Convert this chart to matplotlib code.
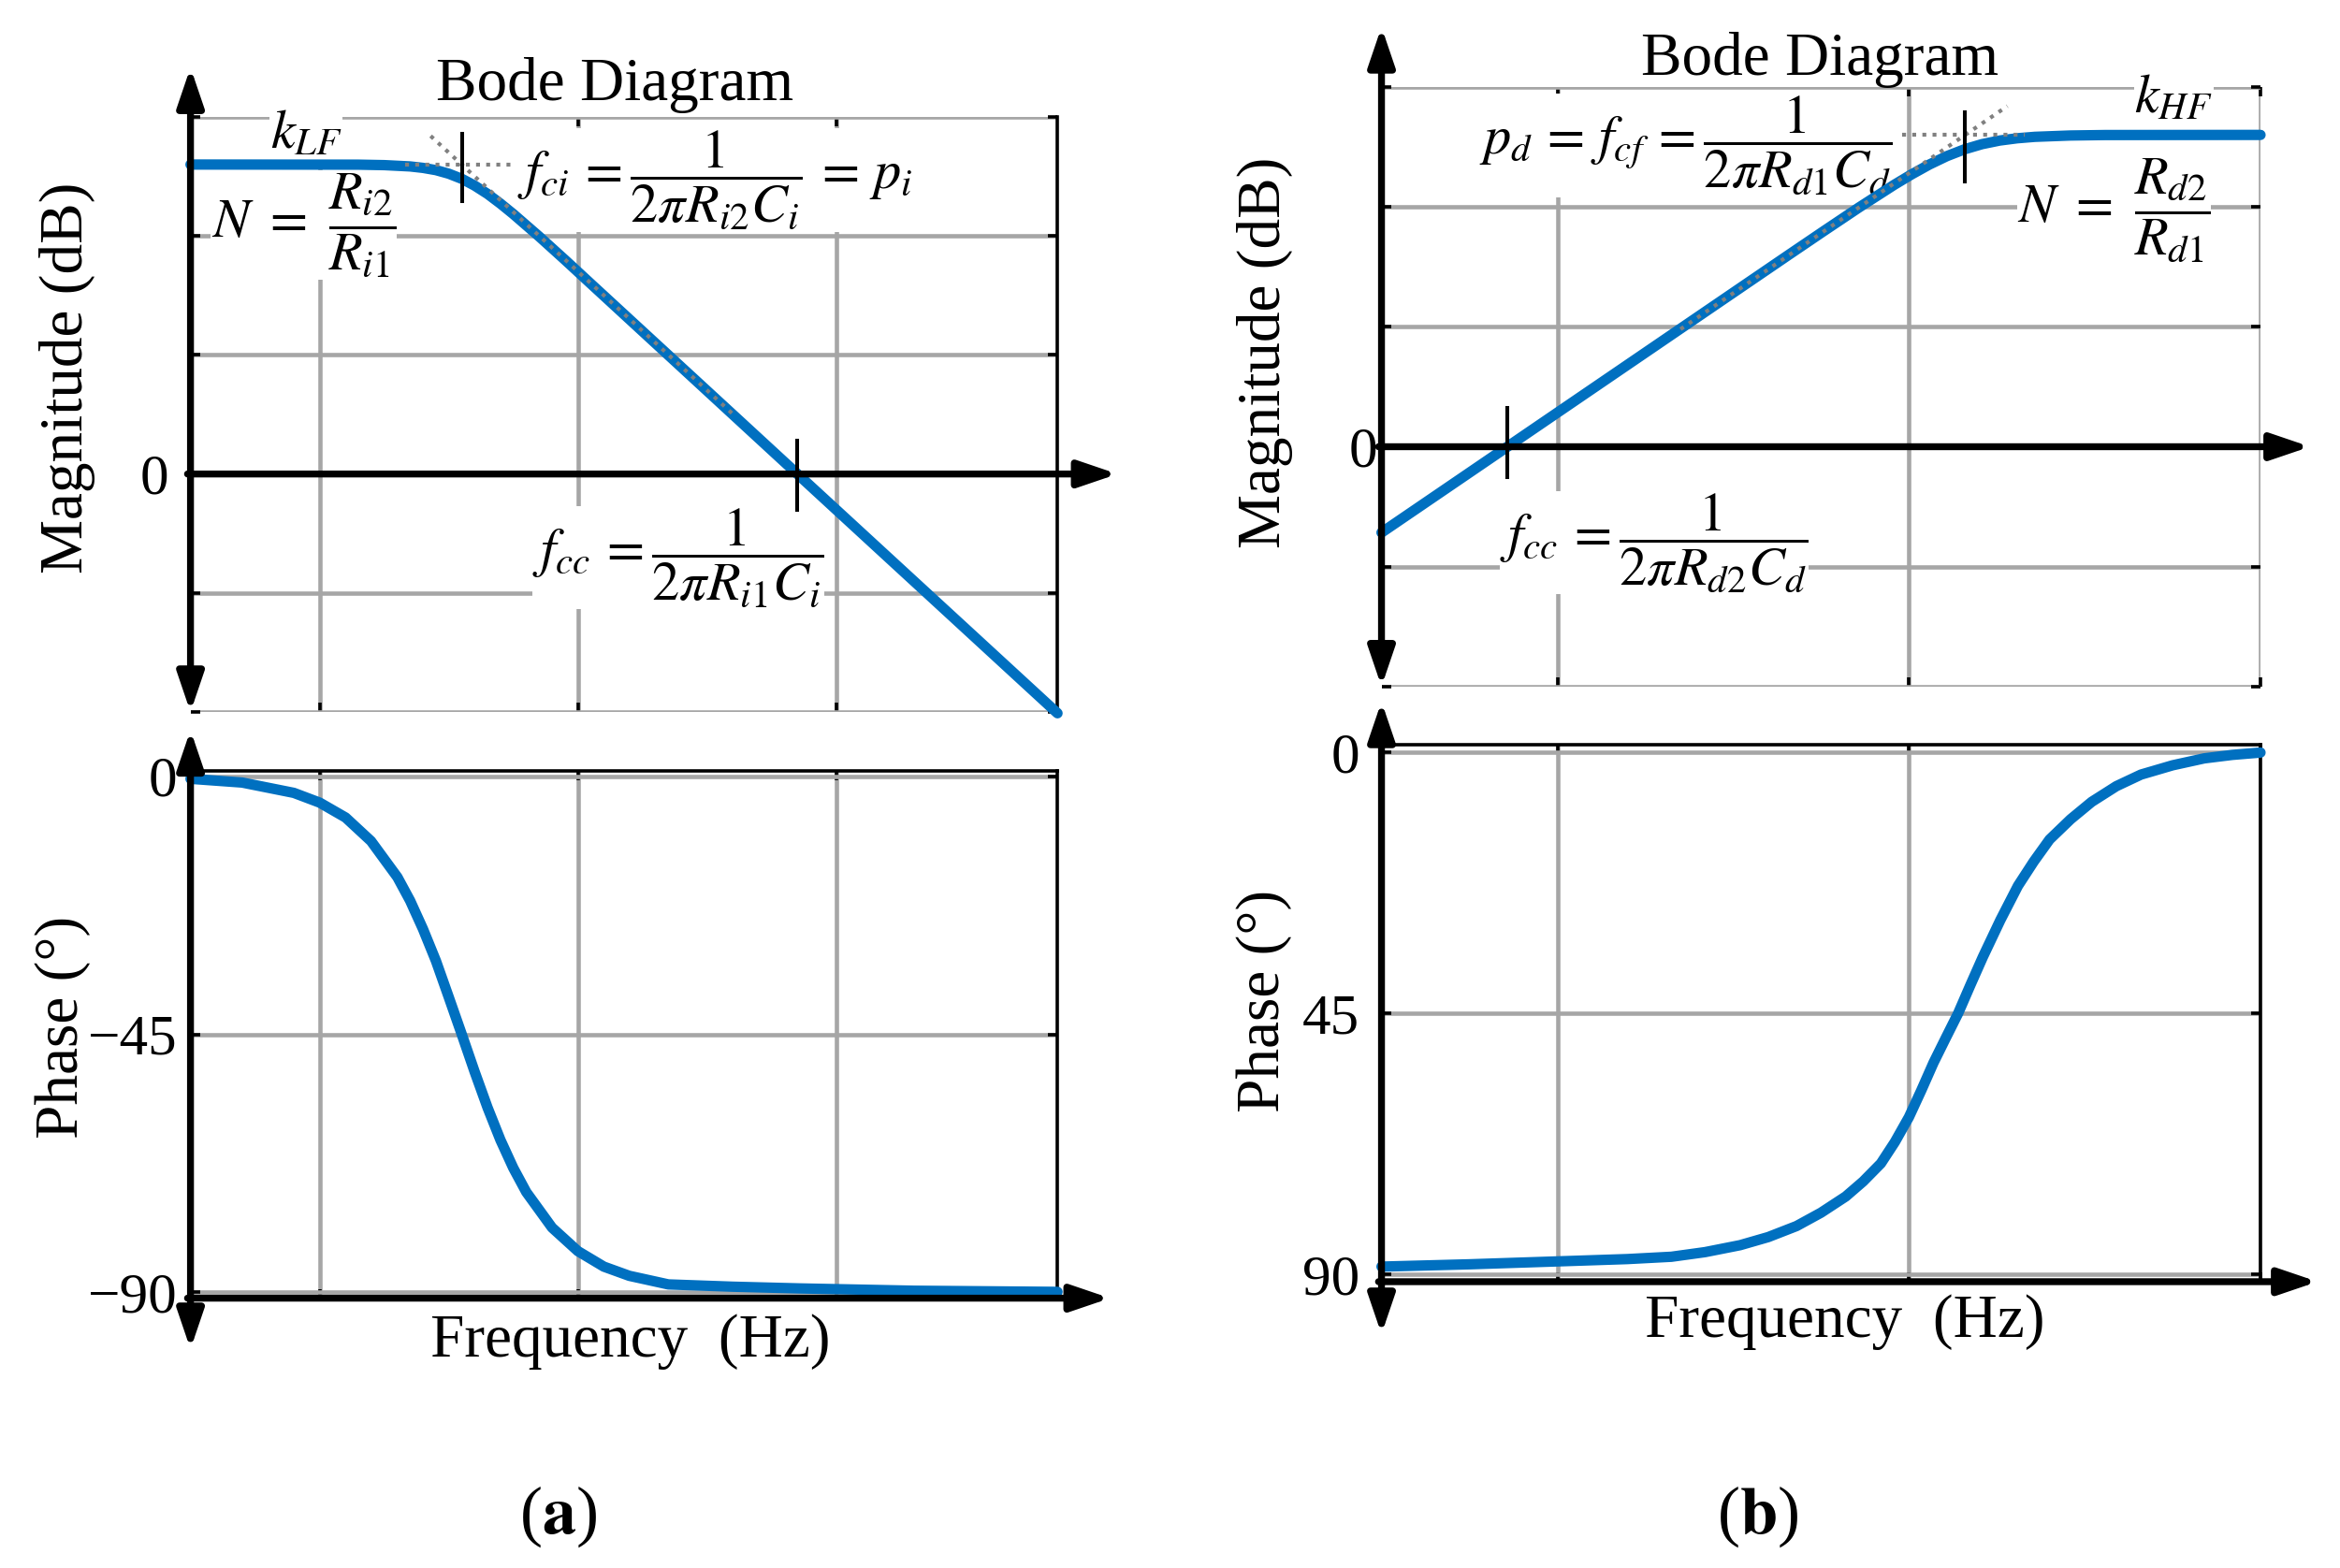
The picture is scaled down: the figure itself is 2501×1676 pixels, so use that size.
import matplotlib
matplotlib.use("Agg")
import matplotlib.pyplot as plt
from matplotlib.ticker import NullLocator

plt.rcParams['font.family'] = 'serif'
plt.rcParams['font.serif'] = ['Liberation Serif', 'DejaVu Serif']
plt.rcParams['mathtext.fontset'] = 'stix'

# ---- data (frequency in Hz, magnitude in dB, phase in deg) ----
# (a) low-pass: k_LF = 26 dB, -20 dB/dec, corner ~35 Hz, crossover ~708 Hz
mag_a_f = [3.16, 14.1, 17.8, 22.4, 25.1, 28.2, 31.6, 35.5, 39.8, 44.7, 50.1, 56.2,
           70.8, 89.1, 112, 708, 7200]
mag_a_db = [26.0, 25.99, 25.95, 25.84, 25.72, 25.53, 25.23, 24.8, 24.23, 23.53, 22.72,
            21.84, 19.95, 17.99, 16.0, 0.0, -20.1]
ph_a_f = [3.16, 5.01, 7.94, 10, 12.6, 15.8, 20.0, 22.4, 25.1, 28.2, 31.6, 35.5, 39.8,
          44.7, 50.1, 56.2, 63.1, 79.4, 100, 126, 158, 224, 398, 724, 2000, 7200]
ph_a_deg = [-0.45, -1.1, -2.9, -4.6, -7.2, -11.3, -17.6, -21.7, -26.6, -32.2, -38.5,
            -45, -51.5, -57.8, -63.4, -68.3, -72.5, -78.7, -82.8, -85.5, -87.1, -88.6,
            -89.0, -89.3, -89.7, -89.9]
asym_a_flat_f, asym_a_flat_db = [21.4, 55], [26, 26]
asym_a_slope_f, asym_a_slope_db = [26.9, 400], [28.4, 5.0]
fci_a, fcc_a = 35.5, 708

# (b) high-pass: +20 dB/dec, k_HF = 26 dB, crossover ~72 Hz, corner ~1.44 kHz
mag_b_f = [31.6, 72.1, 455, 573, 721, 908, 1019, 1143, 1282, 1439, 1614, 1811, 2032,
           2280, 2871, 3614, 10000]
mag_b_db = [-7.16, 0.0, 16.0, 17.99, 19.95, 21.84, 22.72, 23.53, 24.23, 24.8, 25.23,
            25.53, 25.72, 25.84, 25.95, 25.99, 26.0]
ph_b_f = [31.6, 56.2, 100, 158, 211, 263, 331, 398, 479, 562, 661, 741, 832, 912, 1000,
          1084, 1175, 1274, 1380, 1496, 1622, 1820, 2042, 2265, 2512, 2884, 3311, 3890,
          4571, 5623, 6918, 8318, 10000]
ph_b_deg = [88.7, 88.3, 87.8, 87.4, 87.0, 86.2, 85.0, 83.6, 81.7, 79.4, 76.6, 74.0,
            70.9, 67.2, 62.9, 58.3, 53.5, 49.2, 45, 40.1, 35.3, 28.9, 23.0, 18.8, 15.0,
            11.5, 8.5, 5.8, 3.8, 2.2, 1.0, 0.4, 0.0]
asym_b_flat_f, asym_b_flat_db = [955, 2140], [26, 26]
asym_b_slope_f, asym_b_slope_db = [224, 1905], [9.8, 28.4]
fcf_b, fcc_b = 1439, 72.1

mag_grid_db = [-20, -10, 0, 10, 20, 30]
mag_labels = ['', '', '0', '', '', '']
ph_a_ticks, ph_a_labels = [-90, -45, 0], ['\u221290', '\u221245', '0']
ph_b_ticks, ph_b_labels = [0, 45, 90], ['0', '45', '90']

BLUE = '#0070C0'
GRID = '#A6A6A6'
W, H = 1560, 1046   # layout grid of the reference


def fx(x):
    return x / W


def fy(y):
    return 1 - y / H


def box(l, t, r, b):
    return [fx(l), fy(b), fx(r) - fx(l), fy(t) - fy(b)]


fig = plt.figure(figsize=(25.01, 16.76), dpi=100)

ax_ma = fig.add_axes(box(127, 78, 705, 475))
ax_pa = fig.add_axes(box(127, 514, 705, 866))
ax_mb = fig.add_axes(box(921, 58, 1507, 458))
ax_pb = fig.add_axes(box(921, 497, 1507, 855))


def style(ax, xgrid, xlim, yticks, ylabels, ylim, top_black, right_black, pad):
    ax.set_xscale('log')
    ax.set_xlim(xlim)
    ax.set_ylim(ylim)
    ax.set_xticks(xgrid)
    ax.xaxis.set_minor_locator(NullLocator())
    ax.set_yticks(yticks, labels=ylabels)
    ax.set_axisbelow(True)
    ax.grid(True, color=GRID, lw=3.3)
    for s in ['left', 'bottom', 'top', 'right']:
        ax.spines[s].set_visible(False)
    if top_black:
        ax.spines['top'].set_visible(True)
        ax.spines['top'].set_linewidth(2.6)
    if right_black:
        ax.spines['right'].set_visible(True)
        ax.spines['right'].set_linewidth(2.6)
    ax.tick_params(which='major', direction='in', length=7, width=2.6, color='k',
                   top=True, right=True, labelbottom=False, labelsize=44, pad=pad)
    ax.patch.set_alpha(0)


style(ax_ma, [10, 100, 1000], (3.16, 7200), mag_grid_db, mag_labels, (-20, 30), False, True, 17)
style(ax_pa, [10, 100, 1000], (3.16, 7200), ph_a_ticks, ph_a_labels, (-91, 1), True, True, 10)
style(ax_mb, [100, 1000, 10000], (31.6, 10000), mag_grid_db, mag_labels, (-20, 30), False, False, 3)
style(ax_pb, [100, 1000, 10000], (31.6, 10000), ph_b_ticks, ph_b_labels, (91.3, -1.3), True, True, 17)

# curves
for ax, xs, ys in [(ax_ma, mag_a_f, mag_a_db), (ax_pa, ph_a_f, ph_a_deg),
                   (ax_mb, mag_b_f, mag_b_db), (ax_pb, ph_b_f, ph_b_deg)]:
    ax.plot(xs, ys, color=BLUE, lw=8, solid_capstyle='round', solid_joinstyle='round',
            zorder=3, clip_on=False)

# asymptotes
dot = dict(color='#808080', lw=3, ls=(0, (1, 1.6)), zorder=4)
ax_ma.plot(asym_a_flat_f, asym_a_flat_db, **dot)
ax_ma.plot(asym_a_slope_f, asym_a_slope_db, **dot)
ax_mb.plot(asym_b_flat_f, asym_b_flat_db, **dot)
ax_mb.plot(asym_b_slope_f, asym_b_slope_db, **dot)

# corner / crossover marks
ax_ma.plot([fci_a, fci_a], [22.9, 28.6], color='k', lw=2.9, zorder=5)
ax_ma.plot([fcc_a, fcc_a], [-3.0, 2.8], color='k', lw=2.9, zorder=5)
ax_mb.plot([fcf_b, fcf_b], [22.1, 27.9], color='k', lw=2.9, zorder=5)
ax_mb.plot([fcc_b, fcc_b], [-2.5, 3.2], color='k', lw=2.9, zorder=5)


# axis arrows
def arrow(ax, p0, p1, style='-|>'):
    ax.annotate('', xy=(fx(p1[0]), fy(p1[1])), xytext=(fx(p0[0]), fy(p0[1])),
                xycoords='figure fraction', textcoords='figure fraction',
                arrowprops=dict(arrowstyle=style + ',head_length=2.5,head_width=0.85',
                                mutation_scale=10, lw=5.3, color='k',
                                shrinkA=0, shrinkB=0),
                annotation_clip=False, zorder=6)


y0a = 475 - 20 / 50 * (475 - 78)
y0b = 458 - 20 / 50 * (458 - 58)
arrow(ax_ma, (127, 475), (127, 45), '<|-|>')
arrow(ax_ma, (125, y0a), (745, y0a))
arrow(ax_pa, (127, 900), (127, 487), '<|-|>')
arrow(ax_pa, (125, 866), (740, 866))
arrow(ax_mb, (921, 458), (921, 18), '<|-|>')
arrow(ax_mb, (919, y0b), (1540, y0b))
arrow(ax_pb, (921, 890), (921, 468), '<|-|>')
arrow(ax_pb, (919, 855), (1545, 855))

# annotations (white boxes hide the grid behind them)
wb = dict(fc='white', ec='none', pad=0.5)
FS = 42


def note(ax, x, y, s, ha='left'):
    ax.text(fx(x), fy(y), s, transform=fig.transFigure, ha=ha, va='center',
            fontsize=FS, bbox=wb, zorder=1.5)


note(ax_ma, 180, 90, r'$k_{LF}$')
note(ax_ma, 141, 150, r'$N\ =\ \dfrac{R_{i2}}{R_{i1}}$')
note(ax_ma, 345, 120, r'$f_{ci}\,{=}\dfrac{1}{2\pi R_{i2}C_i}\,{=}\,p_i$')
note(ax_ma, 355, 372, r'$f_{cc}\,{=}\dfrac{1}{2\pi R_{i1}C_i}$')
note(ax_mb, 986, 97, r'$p_d\,{=}\,f_{cf}\,{=}\dfrac{1}{2\pi R_{d1}C_d}$')
note(ax_mb, 1423, 66, r'$k_{HF}$')
note(ax_mb, 1345, 140, r'$N\ =\ \dfrac{R_{d2}}{R_{d1}}$')
note(ax_mb, 1000, 362, r'$f_{cc}\,{=}\dfrac{1}{2\pi R_{d2}C_d}$')

# titles and axis labels
LS = 47
fig.text(fx(410), fy(57), 'Bode Diagram', ha='center', va='center', fontsize=LS)
fig.text(fx(1213), fy(40), 'Bode Diagram', ha='center', va='center', fontsize=LS)
fig.text(fx(45), fy(252), 'Magnitude (dB)', ha='center', va='center', rotation=90, fontsize=LS)
fig.text(fx(42), fy(685), 'Phase (\u00b0)', ha='center', va='center', rotation=90, fontsize=LS)
fig.text(fx(843), fy(235), 'Magnitude (dB)', ha='center', va='center', rotation=90, fontsize=LS)
fig.text(fx(843), fy(668), 'Phase (\u00b0)', ha='center', va='center', rotation=90, fontsize=LS)
fig.text(fx(420), fy(895), 'Frequency  (Hz)', ha='center', va='center', fontsize=LS)
fig.text(fx(1230), fy(882), 'Frequency  (Hz)', ha='center', va='center', fontsize=LS)
fig.text(fx(372), fy(1012), r'($\mathbf{a}$)', ha='center', va='center', fontsize=52)
fig.text(fx(1172), fy(1012), r'($\mathbf{b}$)', ha='center', va='center', fontsize=52)

fig.savefig('out.png', dpi=100)
